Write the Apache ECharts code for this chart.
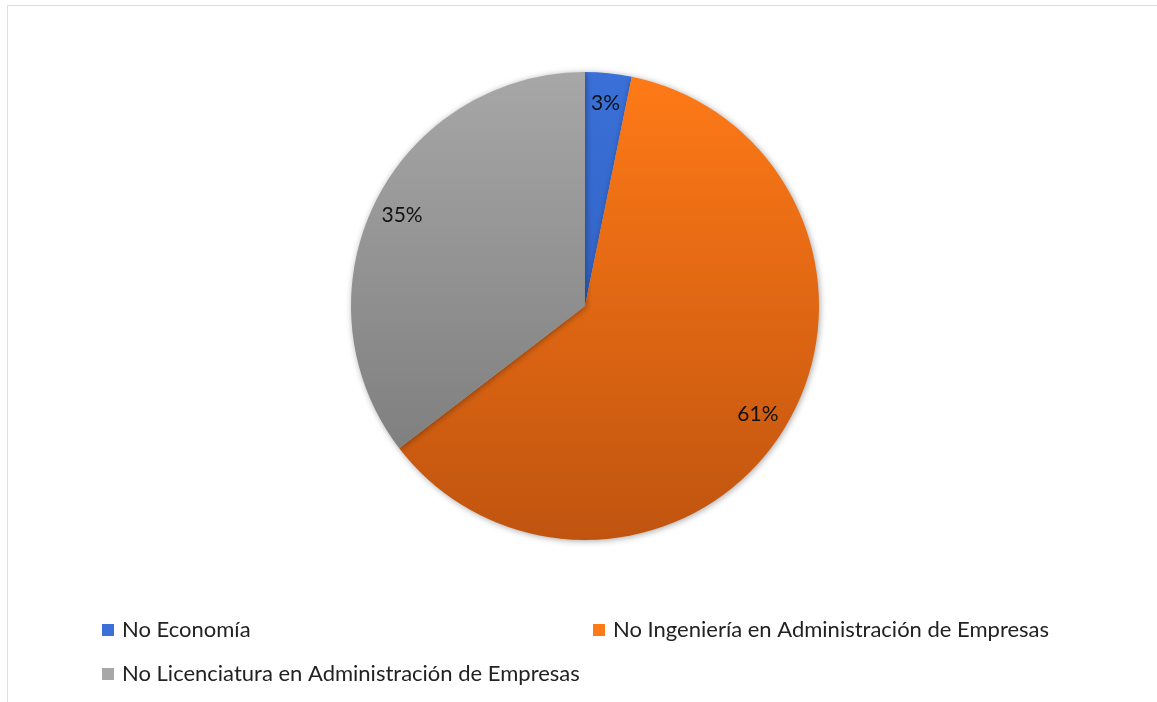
<!DOCTYPE html>
<html>
<head>
<meta charset="utf-8">
<script src="https://cdn.jsdelivr.net/npm/echarts@6/dist/echarts.min.js"></script>
<style>
html,body{margin:0;padding:0;background:#fff;}
#frame{position:absolute;left:7px;top:5px;width:1160px;height:710px;border-top:1px solid #d9dfe7;border-left:1px solid #d9dfe7;}
#chart{position:absolute;left:0;top:0;width:1157px;height:702px;}
</style>
</head>
<body>
<div id="frame"></div>
<div id="chart"></div>
<script>
const categories = ['No Economía', 'No Ingeniería en Administración de Empresas', 'No Licenciatura en Administración de Empresas'];
const values = [3.2, 61.4, 35.4];

const gradients = [
  ['#3a70d8', '#2a58b4'],
  ['#ff7a17', '#c0540f'],
  ['#a7a7a7', '#767676']
];
function grad(c){
  return {type:'linear', global:true, x:0, y:72, x2:0, y2:540,
    colorStops:[{offset:0,color:c[0]},{offset:1,color:c[1]}]};
}
const pieData = categories.map((n,i)=>({name:n, value:values[i], itemStyle:{color:grad(gradients[i])}}));
const labelData = categories.map((n,i)=>({name:n, value:values[i]}));

const chart = echarts.init(document.getElementById('chart'), null, {renderer:'canvas'});
const font = 'Lato, "Open Sans", sans-serif';
function leg(i, left, top){
  return {data:[categories[i]], left:left, top:top, orient:'horizontal', itemWidth:12, itemHeight:12, itemGap:0,
    icon:'rect', selectedMode:false,
    textStyle:{fontFamily:font, fontSize:22, color:'#222', padding:[0,0,0,3]}};
}
chart.setOption({
  animation:false,
  legend:[leg(0,97,614), leg(1,588,614), leg(2,97,658)],
  series:[
    {type:'pie', center:[585,306], radius:[0,234], startAngle:90, clockwise:true,
     data:pieData, label:{show:false}, labelLine:{show:false},
     itemStyle:{shadowBlur:6, shadowColor:'rgba(0,0,0,0.35)', shadowOffsetX:1, shadowOffsetY:1},
     emphasis:{disabled:true}, silent:true},
    {type:'pie', center:[585,306], radius:[168,234], startAngle:90, clockwise:true,
     data:labelData, itemStyle:{color:'rgba(0,0,0,0)'}, labelLine:{show:false},
     label:{show:true, position:'inside', formatter:p=>Math.round(p.percent)+'%', fontFamily:font, fontSize:21, color:'#111'},
     percentPrecision:1, emphasis:{disabled:true}, silent:true, legendHoverLink:false}
  ]
});
</script>
</body>
</html>
